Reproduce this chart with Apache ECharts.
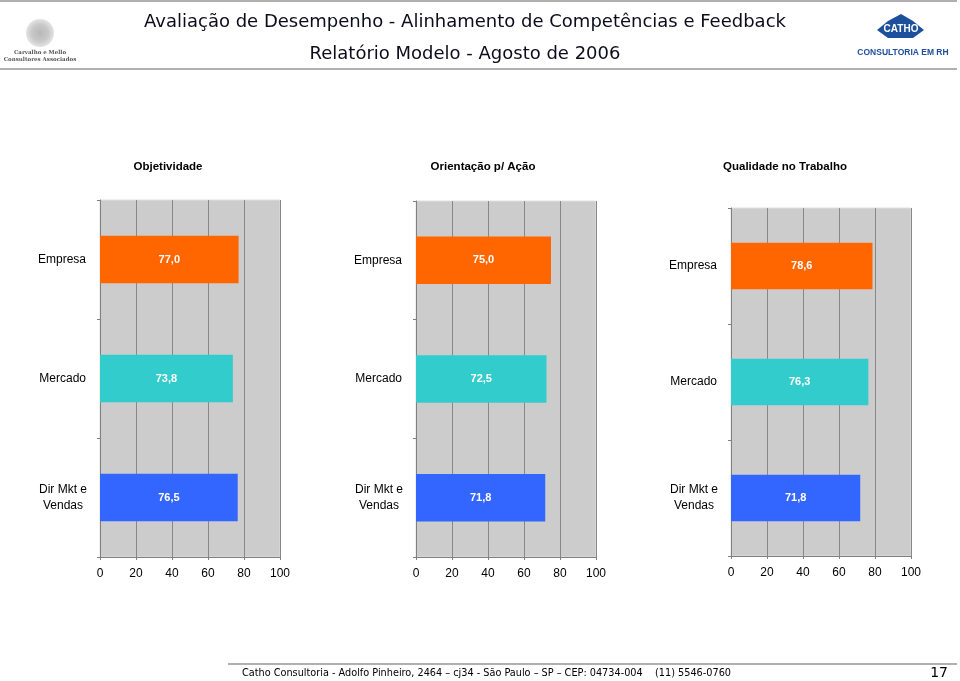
<!DOCTYPE html>
<html><head><meta charset="utf-8">
<script src="https://cdn.jsdelivr.net/npm/echarts@6/dist/echarts.min.js"></script>
<style>html,body{margin:0;padding:0;background:#fff}#c{width:960px;height:681px}</style>
</head><body><div id="c"></div>
<script>
const categories = ['Empresa', 'Mercado', 'Dir Mkt e\nVendas'];
const chartTitles = ['Objetividade', 'Orientação p/ Ação', 'Qualidade no Trabalho'];
const objetividade = [77.0, 73.8, 76.5];
const orientacao = [75.0, 72.5, 71.8];
const qualidade = [78.6, 76.3, 71.8];
const xMin = 0, xMax = 100, xStep = 20;

const seriesData = [objetividade, orientacao, qualidade];
const barColors = ['#FF6600', '#33CCCC', '#3366FF'];
const grids = [
  {left: 100, top: 200, width: 180, height: 357},
  {left: 416, top: 201, width: 180, height: 356},
  {left: 731, top: 208, width: 180, height: 348}
];
const titleCenters = [168, 483, 785];
const font = '"Liberation Sans", Arial, sans-serif';

const chart = echarts.init(document.getElementById('c'), null, {renderer: 'canvas'});
const option = {
  animation: false,
  backgroundColor: '#fff',
  title: chartTitles.map((t, i) => ({
    text: t, left: titleCenters[i] - 5, top: 156, textAlign: 'center',
    textStyle: {fontFamily: font, fontSize: 11.5, fontWeight: 'bold', color: '#000'}
  })),
  grid: grids.map(g => Object.assign({show: true, backgroundColor: '#CCCCCC', borderColor: '#e0e0e0', borderWidth: 1}, g)),
  xAxis: grids.map((g, i) => ({
    type: 'value', gridIndex: i, min: xMin, max: xMax, interval: xStep,
    axisLine: {show: true, lineStyle: {color: '#808080', width: 1}},
    axisTick: {show: true, length: 3, lineStyle: {color: '#808080'}},
    axisLabel: {fontFamily: font, fontSize: 12, color: '#000', margin: 11},
    splitLine: {show: true, lineStyle: {color: '#888', width: 1}}
  })),
  yAxis: grids.map((g, i) => ({
    type: 'category', gridIndex: i, data: categories, inverse: true,
    axisLine: {show: true, lineStyle: {color: '#808080'}},
    axisTick: {show: true, length: 3, lineStyle: {color: '#808080'}},
    axisLabel: {
      fontFamily: font, fontSize: 12, color: '#000', margin: 14,
      formatter: v => v.indexOf('\n') >= 0 ? v.split('\n').map(s => '{c|' + s + '}').join('\n') : v,
      rich: {c: {width: 46, align: 'center', fontFamily: font, fontSize: 12, color: '#000', lineHeight: 16}}
    }
  })),
  series: seriesData.map((d, i) => ({
    type: 'bar', xAxisIndex: i, yAxisIndex: i, barWidth: '40%',
    data: d.map((v, k) => ({value: v, itemStyle: {color: barColors[k]}})),
    label: {show: true, position: 'inside', color: '#fff', fontFamily: font, fontSize: 11, fontWeight: 'bold',
      formatter: p => p.value.toFixed(1).replace('.', ',')}
  })),
  graphic: [
    {type: 'rect', shape: {x: 0, y: 0, width: 957, height: 2}, style: {fill: '#b0b0b0'}},
    {type: 'rect', shape: {x: 0, y: 68, width: 957, height: 2}, style: {fill: '#b0b0b0'}},
    {type: 'circle', shape: {cx: 40, cy: 33, r: 14}, style: {fill: {type: 'radial', x: 0.5, y: 0.5, r: 0.5,
      colorStops: [{offset: 0, color: '#b8b8b8'}, {offset: 0.6, color: '#c8c8c8'}, {offset: 1, color: '#e4e4e4'}]}}},
    {type: 'text', x: 40, y: 50, style: {text: 'Carvalho e Mello', fontFamily: '"DejaVu Serif", serif', fontSize: 5.5, fontWeight: 'bold', fill: '#555', align: 'center'}},
    {type: 'text', x: 40, y: 57, style: {text: 'Consultores Associados', fontFamily: '"DejaVu Serif", serif', fontSize: 5.5, fontWeight: 'bold', fill: '#555', align: 'center'}},
    {type: 'text', x: 465, y: 13, style: {text: 'Avaliação de Desempenho - Alinhamento de Competências e Feedback', fontFamily: '"DejaVu Sans", Verdana, sans-serif', fontSize: 18, fill: '#0c0c1c', align: 'center'}},
    {type: 'text', x: 465, y: 45, style: {text: 'Relatório Modelo - Agosto de 2006', fontFamily: '"DejaVu Sans", Verdana, sans-serif', fontSize: 18, fill: '#0c0c1c', align: 'center'}},
    {type: 'polygon', shape: {points: [[877, 30], [888, 21], [913, 21], [924, 30], [913, 38], [888, 38]]}, style: {fill: '#1c4f9c'}},
    {type: 'polygon', shape: {points: [[888, 21], [901, 14], [913, 21]]}, style: {fill: '#1c4f9c'}},
    {type: 'text', x: 901, y: 24, style: {text: 'CATHO', fontFamily: font, fontSize: 10, fontWeight: 'bold', fill: '#fff', align: 'center'}},
    {type: 'text', x: 903, y: 48, style: {text: 'CONSULTORIA EM RH', fontFamily: font, fontSize: 8.5, fontWeight: 'bold', fill: '#1c4f9c', align: 'center'}},
    {type: 'rect', shape: {x: 228, y: 663, width: 729, height: 2}, style: {fill: '#b0b0b0'}},
    {type: 'text', x: 242, y: 668, style: {text: 'Catho Consultoria - Adolfo Pinheiro, 2464 – cj34 - São Paulo – SP – CEP: 04734-004    (11) 5546-0760', fontFamily: '"DejaVu Sans Condensed", "DejaVu Sans", sans-serif', fontSize: 10.8, fill: '#000'}},
    {type: 'text', x: 948, y: 666, style: {text: '17', fontFamily: '"DejaVu Sans", sans-serif', fontSize: 14, fill: '#000', align: 'right'}}
  ]
};
chart.setOption(option);
</script></body></html>
